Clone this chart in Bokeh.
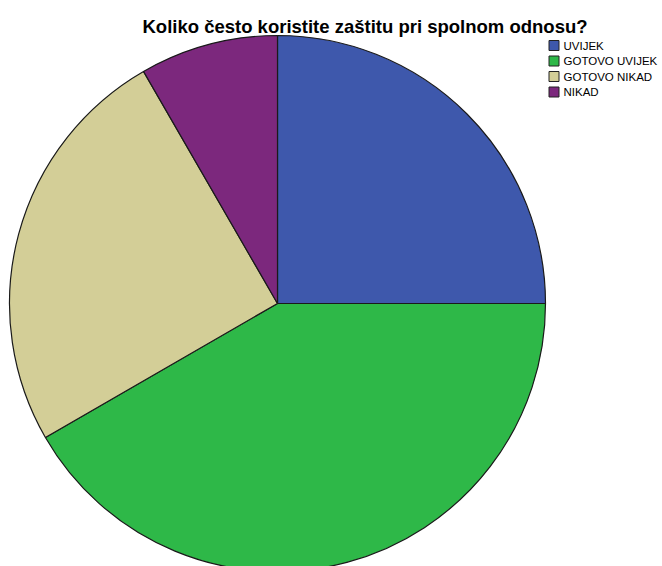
import math
from bokeh.plotting import figure
from bokeh.models import Range1d, ColumnDataSource
from bokeh.core.properties import value
from bokeh.embed import file_html
from bokeh.resources import INLINE

categories = ["UVIJEK", "GOTOVO UVIJEK", "GOTOVO NIKAD", "NIKAD"]
counts = [3, 5, 3, 1]
colors = ["#3E58AC", "#2EB848", "#D3CE97", "#7C287D"]
title = "Koliko često koristite zaštitu pri spolnom odnosu?"

total = sum(counts)
starts, ends = [], []
cum = 0.0
for c in counts:
    starts.append(math.radians(90 - cum / total * 360))
    cum += c
    ends.append(math.radians(90 - cum / total * 360))

p = figure(width=662, height=566, output_backend="svg", toolbar_location=None,
           x_range=Range1d(0, 662), y_range=Range1d(-566, 0), min_border=0)
p.axis.visible = False
p.grid.visible = False
p.outline_line_color = None
p.background_fill_color = "white"
p.border_fill_color = "white"

src = ColumnDataSource(dict(start=starts, end=ends, color=colors, cat=categories))
p.wedge(x=277, y=-303, radius=268, start_angle="start", end_angle="end",
        direction="clock", fill_color="color", line_color="#1a1a1a", line_width=1.2,
        source=src)

p.text(x=[364.5], y=[-26], text=[title], text_font=value("Liberation Sans"),
       text_font_size="18.5px", text_font_style="bold", text_align="center",
       text_baseline="alphabetic", text_color="black")

ly = [-45 - 15.5 * i for i in range(len(categories))]
p.rect(x=[553.5] * 4, y=ly, width=10, height=10, fill_color=colors, line_color="#222", line_width=1)
p.text(x=[563] * 4, y=ly, text=categories, text_font=value("Liberation Sans"),
       text_font_size="11.5px", text_baseline="middle", text_color="black")

open("out.html", "w").write(file_html(p, INLINE))
